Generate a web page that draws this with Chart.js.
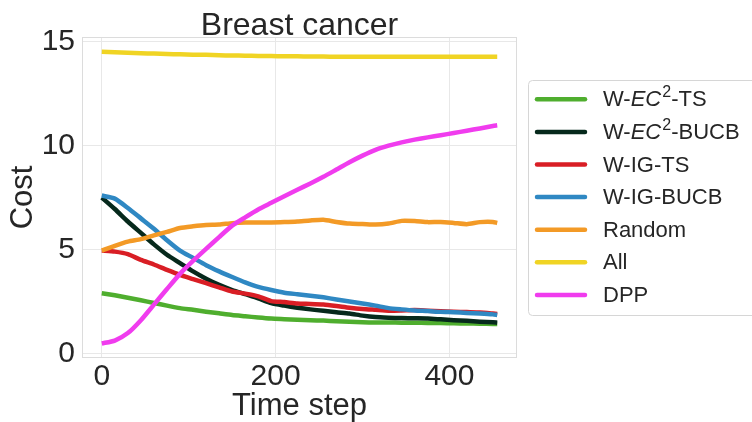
<!DOCTYPE html>
<html>
<head>
<meta charset="utf-8">
<script src="https://cdn.jsdelivr.net/npm/chart.js@4/dist/chart.umd.min.js"></script>
<style>
  html, body { margin: 0; padding: 0; background: #fff; }
  #wrap { width: 752px; height: 422px; }
</style>
</head>
<body>
<div id="wrap"><canvas id="chart" width="752" height="422"></canvas></div>
<script>
const steps = [0, 15, 30, 45, 60, 75, 90, 105, 120, 135, 150, 165, 180, 195, 210, 225,
  240, 255, 270, 285, 300, 315, 330, 345, 360, 375, 390, 405, 420, 435, 450, 455];

const ec2Ts = [2.90, 2.80, 2.68, 2.56, 2.43, 2.30, 2.18, 2.10, 2.01, 1.93, 1.85, 1.79, 1.73, 1.68, 1.65, 1.62,
  1.60, 1.58, 1.55, 1.52, 1.50, 1.49, 1.49, 1.48, 1.48, 1.47, 1.46, 1.45, 1.44, 1.43, 1.42, 1.42];
const ec2Bucb = [7.50, 6.95, 6.35, 5.80, 5.25, 4.75, 4.35, 3.95, 3.60, 3.30, 3.05, 2.85, 2.65, 2.42, 2.30, 2.20,
  2.12, 2.05, 1.98, 1.92, 1.82, 1.75, 1.72, 1.70, 1.69, 1.68, 1.64, 1.60, 1.57, 1.53, 1.50, 1.48];
const igTs = [4.95, 4.90, 4.78, 4.50, 4.28, 4.02, 3.78, 3.58, 3.38, 3.18, 2.98, 2.88, 2.75, 2.52, 2.47, 2.40,
  2.38, 2.35, 2.28, 2.20, 2.14, 2.10, 2.06, 2.07, 2.09, 2.06, 2.03, 2.01, 1.99, 1.97, 1.92, 1.90];
const igBucb = [7.60, 7.45, 7.00, 6.50, 6.00, 5.45, 4.95, 4.60, 4.25, 3.95, 3.68, 3.42, 3.20, 3.05, 2.92, 2.85,
  2.78, 2.70, 2.60, 2.50, 2.40, 2.30, 2.18, 2.12, 2.07, 2.04, 2.00, 1.98, 1.95, 1.92, 1.88, 1.85];
const random = [4.95, 5.18, 5.38, 5.50, 5.68, 5.85, 6.04, 6.12, 6.18, 6.20, 6.27, 6.30, 6.30, 6.30, 6.32, 6.35,
  6.40, 6.43, 6.33, 6.25, 6.23, 6.20, 6.25, 6.38, 6.37, 6.32, 6.33, 6.28, 6.22, 6.32, 6.33, 6.28];
const all = [14.52, 14.50, 14.47, 14.45, 14.43, 14.41, 14.40, 14.38, 14.37, 14.35, 14.34, 14.33, 14.32, 14.31, 14.30, 14.30,
  14.29, 14.29, 14.28, 14.28, 14.28, 14.28, 14.28, 14.28, 14.28, 14.28, 14.28, 14.28, 14.28, 14.28, 14.28, 14.28];
const dpp = [0.48, 0.62, 0.98, 1.60, 2.35, 3.10, 3.83, 4.45, 5.03, 5.60, 6.15, 6.55, 6.93, 7.25, 7.57, 7.88,
  8.18, 8.50, 8.85, 9.20, 9.52, 9.80, 10.00, 10.16, 10.29, 10.40, 10.50, 10.61, 10.72, 10.83, 10.95, 10.98];

const seriesNames = ['W-EC²-TS', 'W-EC²-BUCB', 'W-IG-TS', 'W-IG-BUCB', 'Random', 'All', 'DPP'];
// legend text with italic / superscript pieces
const legendMarkup = ['W-<i>EC</i><sup>2</sup>-TS', 'W-<i>EC</i><sup>2</sup>-BUCB', 'W-IG-TS', 'W-IG-BUCB', 'Random', 'All', 'DPP'];
const seriesValues = [ec2Ts, ec2Bucb, igTs, igBucb, random, all, dpp];
const colors = ['#4fae2e', '#06291c', '#d91e25', '#2f88c3', '#f39a26', '#f0d424', '#f03cee'];

const xTicks = [0, 200, 400];
const yTicks = [0, 5, 10, 15];

const FONT = '"Liberation Sans", Arial, "DejaVu Sans", sans-serif';

const datasets = seriesValues.map((vals, i) => ({
  label: seriesNames[i],
  data: vals.map((v, k) => ({ x: steps[k], y: v })),
  borderColor: colors[i],
  backgroundColor: colors[i],
  borderWidth: 4.5,
  pointRadius: 0,
  tension: 0.2,
  order: seriesValues.length - i
}));

function drawMarkup(ctx, markup, x, y, size) {
  const parts = markup.split(/(<i>.*?<\/i>|<sup>.*?<\/sup>)/).filter(s => s);
  ctx.textBaseline = 'middle';
  ctx.textAlign = 'left';
  for (const p of parts) {
    let text = p, font = size + 'px ' + FONT, dy = 0;
    if (p.startsWith('<i>')) {
      text = p.slice(3, -4);
      font = 'italic ' + size + 'px ' + FONT;
    } else if (p.startsWith('<sup>')) {
      text = p.slice(5, -6);
      font = Math.round(size * 0.72) + 'px ' + FONT;
      dy = -size * 0.33;
      x += 1;
    }
    ctx.font = font;
    ctx.fillText(text, x, y + dy);
    x += ctx.measureText(text).width;
  }
}

const decor = {
  id: 'decor',
  beforeDatasetsDraw(chart) {
    const { ctx, chartArea: a } = chart;
    ctx.save();
    ctx.strokeStyle = '#dcdcdc';
    ctx.lineWidth = 1;
    ctx.strokeRect(a.left + 0.5, a.top + 0.5, a.right - a.left - 1, a.bottom - a.top - 1);
    ctx.restore();
  },
  afterDraw(chart) {
    const { ctx, chartArea: a } = chart;
    ctx.save();
    // title
    ctx.fillStyle = '#262626';
    ctx.font = '32px ' + FONT;
    ctx.textAlign = 'center';
    ctx.textBaseline = 'alphabetic';
    ctx.fillText('Breast cancer', (a.left + a.right) / 2, 35);
    // legend
    ctx.strokeStyle = '#d6d6d6';
    ctx.lineWidth = 1;
    ctx.beginPath();
    ctx.roundRect(528.5, 80.5, 240, 235, 4);
    ctx.stroke();
    chart.data.datasets.forEach((ds, i) => {
      const y = 99.3 + i * 32.6;
      ctx.strokeStyle = ds.borderColor;
      ctx.lineWidth = 4.5;
      ctx.lineCap = 'round';
      ctx.beginPath();
      ctx.moveTo(537, y);
      ctx.lineTo(585, y);
      ctx.stroke();
      ctx.fillStyle = '#262626';
      drawMarkup(ctx, legendMarkup[i], 603, y + 1, 22);
    });
    ctx.restore();
  }
};

new Chart(document.getElementById('chart'), {
  type: 'line',
  data: { datasets },
  plugins: [decor],
  options: {
    responsive: false,
    animation: false,
    layout: { padding: { top: 37, right: 235, left: 0, bottom: 0 } },
    plugins: { legend: { display: false }, title: { display: false }, tooltip: { enabled: false } },
    scales: {
      x: {
        type: 'linear',
        min: -22.75,
        max: 477.75,
        afterFit(s) { s.height = 64; },
        afterBuildTicks(s) { s.ticks = xTicks.map(v => ({ value: v })); },
        border: { display: false },
        grid: { color: '#e8e8e8', lineWidth: 1, drawTicks: false },
        ticks: { padding: 1, color: '#262626', font: { family: FONT, size: 30 }, maxRotation: 0 },
        title: { display: true, text: 'Time step', color: '#262626', padding: { top: 0, bottom: 0 },
                 font: { family: FONT, size: 31, lineHeight: 1.0 } }
      },
      y: {
        type: 'linear',
        min: -0.22,
        max: 15.23,
        afterFit(s) { s.width = 82; },
        afterBuildTicks(s) { s.ticks = yTicks.map(v => ({ value: v })); },
        border: { display: false },
        grid: { color: '#e8e8e8', lineWidth: 1, drawTicks: false },
        ticks: { padding: 7, color: '#262626', font: { family: FONT, size: 30 } },
        title: { display: true, text: 'Cost', color: '#262626', padding: { top: 5, bottom: 0 },
                 font: { family: FONT, size: 31, lineHeight: 1.2 } }
      }
    }
  }
});
</script>
</body>
</html>
